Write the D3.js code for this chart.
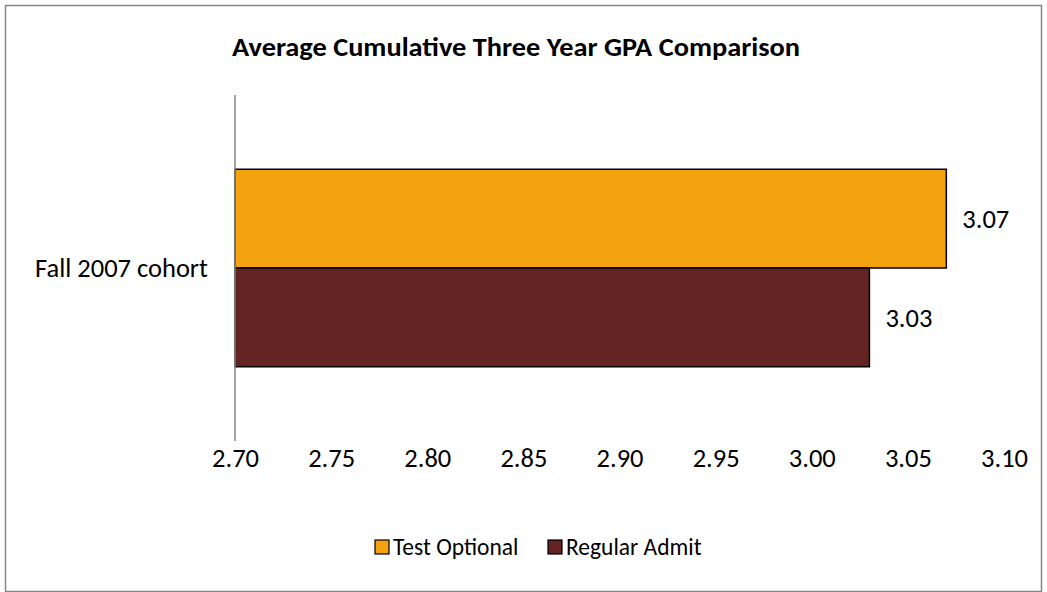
<!DOCTYPE html>
<html>
<head>
<meta charset="utf-8">
<script src="https://cdn.jsdelivr.net/npm/d3@7"></script>
<style>
  body { margin: 0; background: #fff; }
  svg text { font-family: Carlito, Lato, "Open Sans", sans-serif; fill: #000; }
</style>
</head>
<body>
<svg id="chart" width="1047" height="592"></svg>
<script>
// chart data
const categories = ["Fall 2007 cohort"];
const seriesNames = ["Test Optional", "Regular Admit"];
const seriesValues = [[3.07], [3.03]];
const xTicks = [2.7, 2.75, 2.8, 2.85, 2.9, 2.95, 3.0, 3.05, 3.1];
const colors = ["#F4A30F", "#632423"];
const title = "Average Cumulative Three Year GPA Comparison";

const fontSize = 26.5;
const svg = d3.select("#chart");

// outer frame
svg.append("rect")
  .attr("x", 5.5).attr("y", 5.5)
  .attr("width", 1036).attr("height", 586)
  .attr("fill", "#fff")
  .attr("stroke", "#868686")
  .attr("stroke-width", 1.5);

// title
svg.append("text")
  .attr("x", 516).attr("y", 56)
  .attr("text-anchor", "middle")
  .attr("font-weight", "bold")
  .attr("font-size", 27)
  .attr("textLength", 568)
  .attr("lengthAdjust", "spacingAndGlyphs")
  .text(title);

const x = d3.scaleLinear().domain([2.7, 3.1]).range([235, 1004]);

const y0 = d3.scaleBand()
  .domain(categories)
  .range([95, 441])
  .paddingOuter(0.376)
  .paddingInner(0);

const y1 = d3.scaleBand()
  .domain(seriesNames)
  .range([0, y0.bandwidth()]);

// bars
const rows = categories.map((c, i) => ({
  cat: c,
  vals: seriesNames.map((s, j) => ({ name: s, value: seriesValues[j][i], color: colors[j] })),
}));

const groups = svg.selectAll("g.cat")
  .data(rows)
  .enter()
  .append("g")
  .attr("class", "cat")
  .attr("transform", (d) => `translate(0,${y0(d.cat)})`);

groups.selectAll("rect")
  .data((d) => d.vals)
  .enter()
  .append("rect")
  .attr("x", x(2.7))
  .attr("y", (d) => y1(d.name))
  .attr("width", (d) => x(d.value) - x(2.7))
  .attr("height", y1.bandwidth())
  .attr("fill", (d) => d.color)
  .attr("stroke", "#000")
  .attr("stroke-width", 1.5);

// value labels
groups.selectAll("text.val")
  .data((d) => d.vals)
  .enter()
  .append("text")
  .attr("class", "val")
  .attr("x", (d) => x(d.value) + 16)
  .attr("y", (d) => y1(d.name) + y1.bandwidth() / 2)
  .attr("dy", "0.35em")
  .attr("font-size", fontSize)
  .text((d) => d3.format(".2f")(d.value));

// category axis line
svg.append("line")
  .attr("x1", x(2.7)).attr("x2", x(2.7))
  .attr("y1", 95).attr("y2", 441)
  .attr("stroke", "#868686")
  .attr("stroke-width", 1.5);

// category labels
svg.selectAll("text.cat")
  .data(categories)
  .enter()
  .append("text")
  .attr("class", "cat")
  .attr("x", 208)
  .attr("y", (d) => y0(d) + y0.bandwidth() / 2)
  .attr("dy", "0.35em")
  .attr("text-anchor", "end")
  .attr("font-size", fontSize)
  .text((d) => d);

// value axis (labels only)
const xAxis = svg.append("g")
  .attr("transform", "translate(0,450)")
  .call(d3.axisBottom(x).tickValues(xTicks).tickSize(0).tickFormat(d3.format(".2f")));
xAxis.select(".domain").remove();
xAxis.selectAll("text")
  .attr("font-size", fontSize)
  .attr("dy", "0.35em")
  .attr("y", 8)
  .style("font-family", "Carlito, Lato, 'Open Sans', sans-serif");

// legend
const legendX = [375, 548];
const legend = svg.selectAll("g.legend")
  .data(seriesNames)
  .enter()
  .append("g")
  .attr("class", "legend")
  .attr("transform", (d, i) => `translate(${legendX[i]},540)`);

legend.append("rect")
  .attr("width", 14).attr("height", 14)
  .attr("fill", (d, i) => colors[i])
  .attr("stroke", "#000")
  .attr("stroke-width", 1.2);

legend.append("text")
  .attr("x", 18)
  .attr("y", 7)
  .attr("dy", "0.35em")
  .attr("font-size", 23.5)
  .text((d) => d);
</script>
</body>
</html>
